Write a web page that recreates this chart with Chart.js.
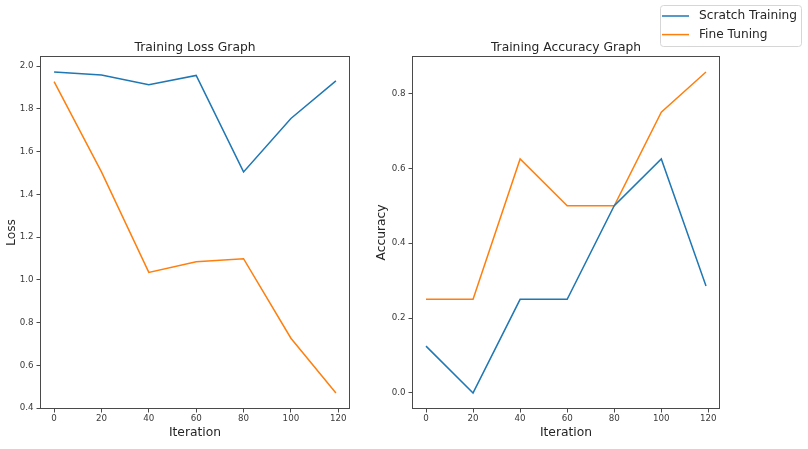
<!DOCTYPE html>
<html>
<head>
<meta charset="utf-8">
<script src="https://cdn.jsdelivr.net/npm/chart.js@4/dist/chart.umd.min.js"></script>
<style>
  html, body { margin: 0; padding: 0; background: #fff; }
  #fig { position: relative; width: 808px; height: 449px; overflow: hidden; }
  .panel { position: absolute; top: 0; height: 449px; }
  #left { left: 0; width: 380px; }
  #right { left: 370px; width: 438px; }
</style>
</head>
<body>
<div id="fig">
  <div class="panel" id="left"><canvas id="lossChart"></canvas></div>
  <div class="panel" id="right"><canvas id="accChart"></canvas></div>
</div>
<script>
// --- datos ---
const iteraciones = [0, 20, 40, 60, 80, 100, 119];
const lossScratch = [1.972, 1.958, 1.913, 1.956, 1.505, 1.755, 1.931];
const lossFine    = [1.927, 1.505, 1.035, 1.085, 1.099, 0.727, 0.471];
const accScratch  = [0.125, 0.0, 0.25, 0.25, 0.5, 0.625, 0.2857];
const accFine     = [0.25, 0.25, 0.625, 0.5, 0.5, 0.75, 0.8571];

const ticksIter = [0, 20, 40, 60, 80, 100, 120];
const ticksLoss = [0.4, 0.6, 0.8, 1.0, 1.2, 1.4, 1.6, 1.8, 2.0];
const ticksAcc  = [0.0, 0.2, 0.4, 0.6, 0.8];

const COLOR_AZUL = '#1f77b4';
const COLOR_NARANJA = '#ff7f0e';
const FUENTE = "'DejaVu Sans', sans-serif";
const TEXTO = '#262626';
const TEXTO_TICKS = '#3a3a3a';
const EJE = '#4a4a4a';

function puntos(xs, ys) {
    return xs.map((x, i) => ({ x: x, y: ys[i] }));
}

// marco completo estilo matplotlib
const marcoPlugin = {
    id: 'marco',
    afterDraw(chart) {
        const a = chart.chartArea;
        const ctx = chart.ctx;
        ctx.save();
        ctx.strokeStyle = EJE;
        ctx.lineWidth = 1;
        ctx.strokeRect(Math.round(a.left) + 0.5, Math.round(a.top) + 0.5,
                       Math.round(a.right - a.left) - 1, Math.round(a.bottom - a.top) - 1);
        ctx.restore();
    }
};

// leyenda de figura (arriba a la derecha)
const leyendaPlugin = {
    id: 'leyendaFigura',
    afterDraw(chart, args, opts) {
        if (!opts.display) return;
        const ctx = chart.ctx;
        const x = opts.x, y = opts.y, w = opts.w, h = opts.h;
        ctx.save();
        ctx.beginPath();
        ctx.roundRect(x + 0.5, y + 0.5, w, h, 3);
        ctx.fillStyle = 'rgba(255,255,255,0.8)';
        ctx.fill();
        ctx.strokeStyle = '#d6d6d6';
        ctx.lineWidth = 1;
        ctx.stroke();
        ctx.font = '12.2px ' + FUENTE;
        ctx.textBaseline = 'middle';
        ctx.fillStyle = TEXTO;
        chart.data.datasets.forEach((ds, i) => {
            const fy = y + 11 + i * 18.6;
            ctx.strokeStyle = ds.borderColor;
            ctx.lineWidth = 1.5;
            ctx.beginPath();
            ctx.moveTo(x + 2, fy);
            ctx.lineTo(x + 29, fy);
            ctx.stroke();
            ctx.fillText(ds.label, x + 39, fy);
        });
        ctx.restore();
    }
};

function crearGrafico(canvasId, cfg) {
    const ctx = document.getElementById(canvasId).getContext('2d');
    return new Chart(ctx, {
        type: 'line',
        data: {
            datasets: [{
                label: 'Scratch Training',
                data: puntos(iteraciones, cfg.scratch),
                borderColor: COLOR_AZUL,
                backgroundColor: COLOR_AZUL,
                borderWidth: 1.5,
                pointRadius: 0,
                tension: 0
            }, {
                label: 'Fine Tuning',
                data: puntos(iteraciones, cfg.fine),
                borderColor: COLOR_NARANJA,
                backgroundColor: COLOR_NARANJA,
                borderWidth: 1.5,
                pointRadius: 0,
                tension: 0
            }]
        },
        options: {
            responsive: true,
            maintainAspectRatio: false,
            animation: false,
            layout: { padding: { left: 0, right: cfg.padRight, top: 0, bottom: 0 } },
            plugins: {
                legend: { display: false },
                tooltip: { enabled: false },
                title: {
                    display: true,
                    text: cfg.titulo,
                    fullSize: false,
                    color: TEXTO,
                    font: { family: FUENTE, size: 12.3, weight: 'normal' },
                    padding: { top: 40, bottom: 1.24 }
                },
                leyendaFigura: cfg.leyenda
            },
            scales: {
                x: {
                    type: 'linear',
                    min: -5.95,
                    max: 124.95,
                    afterBuildTicks: (scale) => { scale.ticks = ticksIter.map(v => ({ value: v })); },
                    afterFit: (scale) => { scale.height = 40; },
                    ticks: {
                        color: TEXTO_TICKS,
                        font: { family: FUENTE, size: 8.7 },
                        padding: 1,
                        maxRotation: 0,
                        autoSkip: false,
                        callback: (v) => String(v)
                    },
                    grid: { display: true, drawOnChartArea: false, drawTicks: true, tickLength: 3.5, color: EJE },
                    border: { display: false },
                    title: {
                        display: true,
                        text: 'Iteration',
                        color: TEXTO,
                        font: { family: FUENTE, size: 12.3 },
                        padding: { top: 9, bottom: 9 }
                    }
                },
                y: {
                    type: 'linear',
                    min: cfg.yMin,
                    max: cfg.yMax,
                    afterBuildTicks: (scale) => { scale.ticks = cfg.yTicks.map(v => ({ value: v })); },
                    afterFit: (scale) => { scale.width = cfg.yWidth; },
                    ticks: {
                        color: TEXTO_TICKS,
                        font: { family: FUENTE, size: 8.7 },
                        padding: 3,
                        autoSkip: false,
                        callback: (v) => Number(v).toFixed(1)
                    },
                    grid: { display: true, drawOnChartArea: false, drawTicks: true, tickLength: 3.5, color: EJE },
                    border: { display: false },
                    title: {
                        display: true,
                        text: cfg.yTitulo,
                        color: TEXTO,
                        font: { family: FUENTE, size: 12.3 },
                        padding: { top: 4.5, bottom: 4.5 }
                    }
                }
            }
        },
        plugins: [marcoPlugin, leyendaPlugin]
    });
}

window.chartLoss = crearGrafico('lossChart', {
    scratch: lossScratch,
    fine: lossFine,
    titulo: 'Training Loss Graph',
    yTitulo: 'Loss',
    yMin: 0.396,
    yMax: 2.047,
    yTicks: ticksLoss,
    yWidth: 40,
    padRight: 30,
    leyenda: { display: false }
});

window.chartAcc = crearGrafico('accChart', {
    scratch: accScratch,
    fine: accFine,
    titulo: 'Training Accuracy Graph',
    yTitulo: 'Accuracy',
    yMin: -0.0429,
    yMax: 0.9,
    yTicks: ticksAcc,
    yWidth: 42,
    padRight: 88,
    leyenda: { display: true, x: 290, y: 5, w: 141, h: 41 }
});
</script>
</body>
</html>
